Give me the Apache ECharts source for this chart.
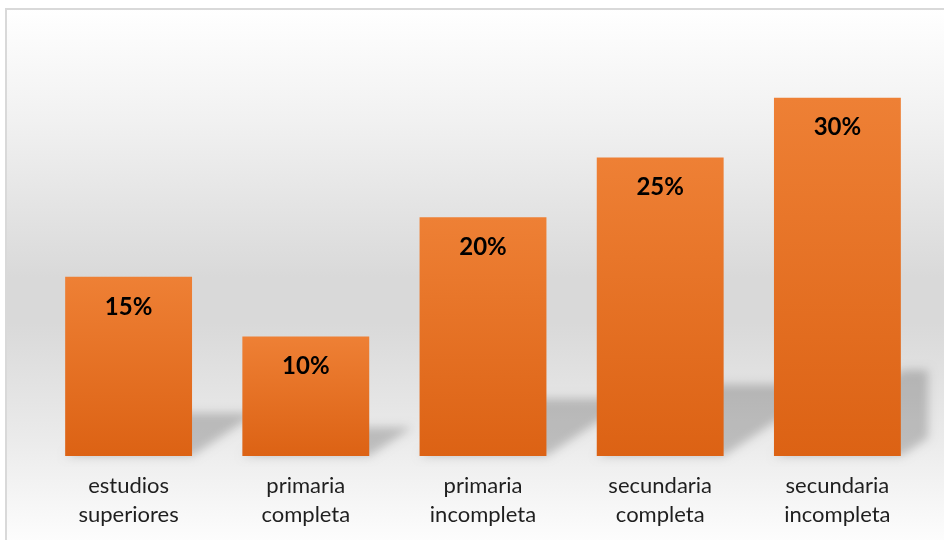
<!DOCTYPE html>
<html>
<head>
<meta charset="utf-8">
<script src="https://cdn.jsdelivr.net/npm/echarts@6/dist/echarts.min.js"></script>
<style>
  html, body { margin: 0; padding: 0; background: #ffffff; }
  #chart { width: 944px; height: 540px; }
</style>
</head>
<body>
<div id="chart"></div>
<script>
// Nivel de estudios alcanzado (porcentaje)
const categories = [
  'estudios\nsuperiores',
  'primaria\ncompleta',
  'primaria\nincompleta',
  'secundaria\ncompleta',
  'secundaria\nincompleta'
];
const values = [15, 10, 20, 25, 30];

const BAR_RATIO = 0.716;   // bar width as a share of the category band
const FONT = 'Lato, "Open Sans", sans-serif';

const chart = echarts.init(document.getElementById('chart'), null, { renderer: 'canvas' });

// Perspective floor shadow: a squashed, skewed copy of each bar, blurred.
// The shape itself is drawn off canvas so that only its soft shadow shows.
const OFF = 3000;
function renderShadow(params, api) {
  const idx = api.value(0);
  const v = api.value(1);
  const base = api.coord([idx, 0]);
  const top = api.coord([idx, v]);
  const bw = api.size([1, 0])[0] * BAR_RATIO;
  const x0 = base[0] - bw / 2;
  const x1 = base[0] + bw / 2;
  const y0 = base[1];
  const h = (y0 - top[1]) * 0.24;
  const dx = h * 1.5;
  const xc = params.coordSys.x + params.coordSys.width + 2;
  let pts;
  if (x1 + dx > xc) {
    const yi = y0 - h * (xc - x1) / dx;
    pts = [[x0, y0], [x1, y0], [xc, yi], [xc, y0 - h], [x0 + dx, y0 - h]];
  } else {
    pts = [[x0, y0], [x1, y0], [x1 + dx, y0 - h], [x0 + dx, y0 - h]];
  }
  pts = pts.map(p => [p[0] - OFF, p[1]]);
  return {
    type: 'polygon',
    silent: true,
    shape: { points: pts },
    style: {
      fill: '#000',
      shadowColor: 'rgba(0,0,0,0.2)',
      shadowBlur: 10,
      shadowOffsetX: OFF,
      shadowOffsetY: 0
    }
  };
}

const option = {
  animation: false,
  backgroundColor: '#ffffff',
  graphic: {
    elements: [{
      type: 'rect',
      z: -100,
      silent: true,
      shape: { x: 6, y: 9, width: 960, height: 560 },
      style: {
        fill: new echarts.graphic.LinearGradient(0, 0, 0, 1, [
          { offset: 0, color: '#ffffff' },
          { offset: 0.2, color: '#f1f1f1' },
          { offset: 0.48, color: '#d9d9d9' },
          { offset: 0.56, color: '#d9d9d9' },
          { offset: 0.77, color: '#ebebeb' },
          { offset: 0.95, color: '#fdfdfd' },
          { offset: 1, color: '#ffffff' }
        ]),
        stroke: '#d9d9d9',
        lineWidth: 2
      }
    }]
  },
  grid: { left: 40, right: 18, top: 38, bottom: 84 },
  xAxis: {
    type: 'category',
    data: categories,
    axisLine: { show: false },
    axisTick: { show: false },
    axisLabel: {
      margin: 15,
      fontFamily: FONT,
      fontSize: 22,
      lineHeight: 29,
      color: '#1f1f1f',
      interval: 0
    }
  },
  yAxis: {
    type: 'value',
    min: 0,
    max: 35,
    show: false,
    splitLine: { show: false }
  },
  series: [
    {
      type: 'custom',
      z: 1,
      clip: false,
      renderItem: renderShadow,
      data: values.map((v, i) => [i, v])
    },
    {
      type: 'bar',
      z: 3,
      data: values,
      barWidth: (BAR_RATIO * 100) + '%',
      itemStyle: {
        color: new echarts.graphic.LinearGradient(0, 0, 0, 1, [
          { offset: 0, color: '#ee8035' },
          { offset: 1, color: '#dc6214' }
        ])
      },
      label: {
        show: true,
        position: 'insideTop',
        distance: 18,
        formatter: '{c}%',
        fontFamily: FONT,
        fontWeight: 'bold',
        fontSize: 24,
        color: '#000000'
      }
    }
  ]
};

chart.setOption(option);
</script>
</body>
</html>
